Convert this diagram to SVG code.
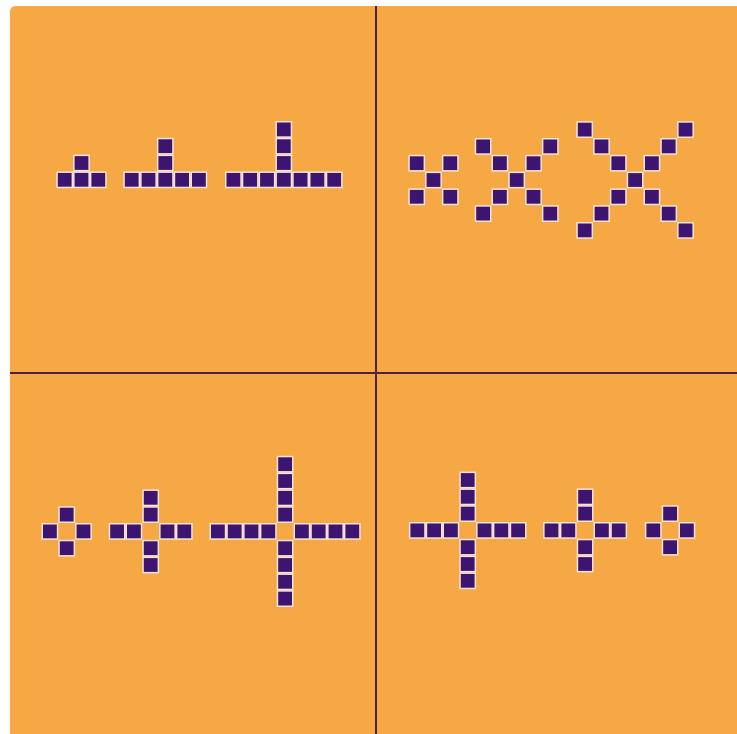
<svg xmlns="http://www.w3.org/2000/svg" width="737" height="734" viewBox="0 0 737 734">
<style>
.bg{fill:#F5A843}
.div{stroke:#4E2145;stroke-width:2;fill:none}
.cell{fill:#3D1570;stroke:#F4E4DA;stroke-width:1.5}
</style>
<defs>
<rect id="c" class="cell" x="0.75" y="0.75" width="15.3" height="15.3"/>
</defs>
<rect x="0" y="0" width="737" height="734" fill="#FFFFFF"/>
<path class="bg" d="M10,12 Q10,6 16,6 L737,6 L737,734 L10,734 Z"/>
<g id="connectors">
<line class="div" x1="376" y1="6" x2="376" y2="734"/>
<line class="div" x1="10" y1="373" x2="737" y2="373"/>
</g>
<g id="t1">
<use href="#c" x="56.3" y="171.4"/><use href="#c" x="73.1" y="171.4"/><use href="#c" x="89.9" y="171.4"/>
<use href="#c" x="73.1" y="154.6"/>
</g>
<g id="t2">
<use href="#c" x="123.3" y="171.4"/><use href="#c" x="140.1" y="171.4"/><use href="#c" x="156.9" y="171.4"/><use href="#c" x="173.7" y="171.4"/><use href="#c" x="190.5" y="171.4"/>
<use href="#c" x="156.9" y="154.6"/><use href="#c" x="156.9" y="137.8"/>
</g>
<g id="t3">
<use href="#c" x="225" y="171.4"/><use href="#c" x="241.8" y="171.4"/><use href="#c" x="258.6" y="171.4"/><use href="#c" x="275.4" y="171.4"/><use href="#c" x="292.2" y="171.4"/><use href="#c" x="309" y="171.4"/><use href="#c" x="325.8" y="171.4"/>
<use href="#c" x="275.4" y="154.6"/><use href="#c" x="275.4" y="137.8"/><use href="#c" x="275.4" y="121"/>
</g>
<g id="x1">
<use href="#c" x="408.3" y="154.8"/><use href="#c" x="441.9" y="154.8"/>
<use href="#c" x="425.1" y="171.6"/>
<use href="#c" x="408.3" y="188.4"/><use href="#c" x="441.9" y="188.4"/>
</g>
<g id="x2">
<use href="#c" x="474.7" y="138"/><use href="#c" x="541.9" y="138"/>
<use href="#c" x="491.5" y="154.8"/><use href="#c" x="525.1" y="154.8"/>
<use href="#c" x="508.3" y="171.6"/>
<use href="#c" x="491.5" y="188.4"/><use href="#c" x="525.1" y="188.4"/>
<use href="#c" x="474.7" y="205.2"/><use href="#c" x="541.9" y="205.2"/>
</g>
<g id="x3">
<use href="#c" x="576.3" y="121.2"/><use href="#c" x="677.1" y="121.2"/>
<use href="#c" x="593.1" y="138"/><use href="#c" x="660.3" y="138"/>
<use href="#c" x="609.9" y="154.8"/><use href="#c" x="643.5" y="154.8"/>
<use href="#c" x="626.7" y="171.6"/>
<use href="#c" x="609.9" y="188.4"/><use href="#c" x="643.5" y="188.4"/>
<use href="#c" x="593.1" y="205.2"/><use href="#c" x="660.3" y="205.2"/>
<use href="#c" x="576.3" y="222"/><use href="#c" x="677.1" y="222"/>
</g>
<g id="c1">
<use href="#c" x="58.3" y="506.2"/>
<use href="#c" x="41.5" y="523"/><use href="#c" x="75.1" y="523"/>
<use href="#c" x="58.3" y="539.8"/>
</g>
<g id="c2">
<use href="#c" x="142.3" y="489.4"/><use href="#c" x="142.3" y="506.2"/>
<use href="#c" x="108.7" y="523"/><use href="#c" x="125.5" y="523"/><use href="#c" x="159.1" y="523"/><use href="#c" x="175.9" y="523"/>
<use href="#c" x="142.3" y="539.8"/><use href="#c" x="142.3" y="556.6"/>
</g>
<g id="c3">
<use href="#c" x="276.7" y="455.8"/><use href="#c" x="276.7" y="472.6"/><use href="#c" x="276.7" y="489.4"/><use href="#c" x="276.7" y="506.2"/>
<use href="#c" x="209.5" y="523"/><use href="#c" x="226.3" y="523"/><use href="#c" x="243.1" y="523"/><use href="#c" x="259.9" y="523"/>
<use href="#c" x="293.5" y="523"/><use href="#c" x="310.3" y="523"/><use href="#c" x="327.1" y="523"/><use href="#c" x="343.9" y="523"/>
<use href="#c" x="276.7" y="539.8"/><use href="#c" x="276.7" y="556.6"/><use href="#c" x="276.7" y="573.4"/><use href="#c" x="276.7" y="590.2"/>
</g>
<g id="c4">
<use href="#c" x="459.3" y="471.6"/><use href="#c" x="459.3" y="488.4"/><use href="#c" x="459.3" y="505.2"/>
<use href="#c" x="408.9" y="522"/><use href="#c" x="425.7" y="522"/><use href="#c" x="442.5" y="522"/>
<use href="#c" x="476.1" y="522"/><use href="#c" x="492.9" y="522"/><use href="#c" x="509.7" y="522"/>
<use href="#c" x="459.3" y="538.8"/><use href="#c" x="459.3" y="555.6"/><use href="#c" x="459.3" y="572.4"/>
</g>
<g id="c5">
<use href="#c" x="576.7" y="488.4"/><use href="#c" x="576.7" y="505.2"/>
<use href="#c" x="543.1" y="522"/><use href="#c" x="559.9" y="522"/><use href="#c" x="593.5" y="522"/><use href="#c" x="610.3" y="522"/>
<use href="#c" x="576.7" y="538.8"/><use href="#c" x="576.7" y="555.6"/>
</g>
<g id="c6">
<use href="#c" x="661.7" y="505.2"/>
<use href="#c" x="644.9" y="522"/><use href="#c" x="678.5" y="522"/>
<use href="#c" x="661.7" y="538.8"/>
</g>
</svg>
